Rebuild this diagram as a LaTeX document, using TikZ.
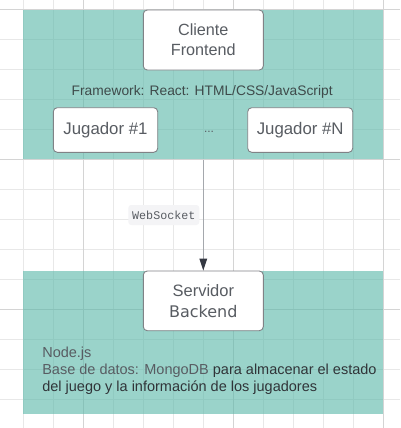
\documentclass[tikz,border=0pt]{standalone}
\usepackage{fontspec}
\setmainfont{Liberation Sans}
\setmonofont{Liberation Mono}
\newfontfamily\widefont{DejaVu Sans}
\usetikzlibrary{arrows.meta}
\definecolor{gridminor}{RGB}{232,232,232}
\definecolor{gridmajor}{RGB}{212,212,212}
\definecolor{tealbase}{RGB}{87,183,167}
\definecolor{boxline}{RGB}{128,130,134}
\definecolor{boxtext}{RGB}{88,92,98}
\definecolor{labeltext}{RGB}{62,74,74}
\definecolor{darktext}{RGB}{48,52,56}
\definecolor{arrowline}{RGB}{165,168,173}
\definecolor{arrowhead}{RGB}{52,56,66}
\definecolor{wsbg}{RGB}{244,244,246}
\tikzset{
  region/.style={fill=tealbase, fill opacity=0.6, draw=none, inner sep=0pt, minimum width=360pt, text opacity=1},
  whitebox/.style={draw=boxline, line width=0.9pt, fill=white, rounded corners=4pt, inner sep=0pt, text=boxtext, align=center},
  plain/.style={inner sep=0pt, outer sep=0pt},
}
\begin{document}
\begin{tikzpicture}[x=1pt,y=-1pt]
\useasboundingbox (0,0) rectangle (400,428);
\fill[white] (0,0) rectangle (400,428);
% grid
\foreach \gx in {23.3,53.3,113.3,143.3,173.3,203.3,263.3,293.3,323.3,353.3}
  \draw[gridminor, line width=0.9pt] (\gx,0) -- (\gx,428);
\foreach \gy in {39.3,69.3,99.3,129.3,189.3,219.3,249.3,279.3,339.3,369.3,399.3}
  \draw[gridminor, line width=0.9pt] (0,\gy) -- (400,\gy);
\foreach \gx in {83.3,233.3,383.3}
  \draw[gridmajor, line width=1pt] (\gx,0) -- (\gx,428);
\foreach \gy in {9.3,159.3,309.3}
  \draw[gridmajor, line width=1pt] (0,\gy) -- (400,\gy);
% regions
\node[region, minimum height=149.3pt] (front) at (203.3,84.65) {};
\node[region, minimum height=143.3pt] (back) at (203.3,342.65) {};
% frontend
\node[whitebox, minimum width=120pt, minimum height=60pt, font=\fontsize{16.2}{20}\selectfont] (cli) at (203.3,40) {Cliente\\Frontend};
\node[plain, text=labeltext, font=\fontsize{13.8}{16}\selectfont] (fw) at (202.2,91.7) {Framework: React: HTML/CSS/JavaScript};
\node[whitebox, minimum width=104.4pt, minimum height=44.6pt, font=\fontsize{16.8}{20}\selectfont] (j1) at (105.5,130) {Jugador \#1};
\node[whitebox, minimum width=105pt, minimum height=44.6pt, font=\fontsize{16.8}{20}\selectfont] (jn) at (300.2,130) {Jugador \#N};
\node[plain, anchor=base, text=boxtext, font=\fontsize{12}{14}\selectfont] (dots) at (209,132.7) {...};
% backend
\node[whitebox, minimum width=120pt, minimum height=59.7pt, font=\fontsize{16.5}{20.7}\selectfont] (srv) at (203.3,300.85) {Servidor\\{\widefont\fontsize{16}{20.7}\selectfont Backend}};
\node[plain, anchor=base west, text=boxtext, font=\fontsize{14.5}{17}\selectfont] (t1) at (42.3,357.3) {Node.js};
\node[plain, anchor=base west, font=\fontsize{14.5}{17}\selectfont] (t2) at (42.3,374.5) {\textcolor{boxtext}{Base de datos: MongoDB} \textcolor{darktext}{para almacenar el estado}};
\node[plain, anchor=base west, text=darktext, font=\fontsize{14.5}{17}\selectfont] (t3) at (42.3,391.7) {del juego y la información de los jugadores};
% connector
\draw[arrowline, line width=1.4pt, -{Triangle[length=12pt,width=7.5pt,color=arrowhead]}] (front.south) -- (srv.north);
\node[fill=wsbg, rounded corners=3pt, inner sep=0pt, minimum width=71pt, minimum height=20pt, text=boxtext, font=\ttfamily\fontsize{11.7}{14}\selectfont] (ws) at (163.8,215) {WebSocket};
\end{tikzpicture}
\end{document}
